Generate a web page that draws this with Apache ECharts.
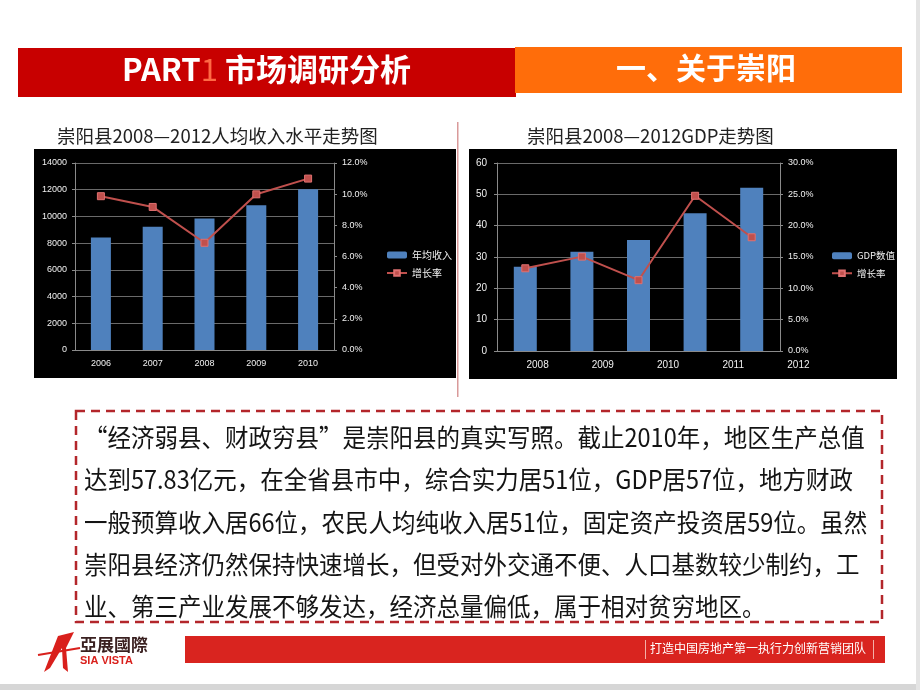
<!DOCTYPE html>
<html><head><meta charset="utf-8">
<script src="https://cdn.jsdelivr.net/npm/echarts@6/dist/echarts.min.js"></script>
<style>html,body{margin:0;padding:0;background:#fff}#c{width:920px;height:690px}</style>
</head><body><div id="c"></div>
<script>
// ---- data ----
const years1 = ['2006', '2007', '2008', '2009', '2010'];
const income = [8420, 9220, 9840, 10840, 12030];
const incomeRate = [0.0987, 0.0918, 0.0688, 0.0999, 0.110];
const years2Bars = ['2008', '2009', '2010', '2011', '2012'];
const years2Labels = ['2008', '2009', '2010', '2011', '2012'];
const gdp = [26.9, 31.7, 35.4, 44.0, 52.1];
const gdpRate = [0.132, 0.1506, 0.113, 0.2477, 0.1815];
const title1 = '崇阳县2008—2012人均收入水平走势图';
const title2 = '崇阳县2008—2012GDP走势图';
const bodyLines = [
  '“经济弱县、财政穷县”是崇阳县的真实写照。截止2010年，地区生产总值',
  '达到57.83亿元，在全省县市中，综合实力居51位，GDP居57位，地方财政',
  '一般预算收入居66位，农民人均纯收入居51位，固定资产投资居59位。虽然',
  '崇阳县经济仍然保持快速增长，但受对外交通不便、人口基数较少制约，工',
  '业、第三产业发展不够发达，经济总量偏低，属于相对贫穷地区。'
];

const FONT = '"Noto Sans CJK SC", "Noto Sans", sans-serif';
const axisLbl = { color: '#f0f0f0', fontSize: 9, fontFamily: 'Liberation Sans, Arial, sans-serif' };
const pct = v => (v * 100).toFixed(1) + '%';
const plain = v => String(v);
const gridLine = { show: true, lineStyle: { color: '#6a6a6a', width: 1 } };
const axLine = { show: true, lineStyle: { color: '#8a8a8a' } };
const tick = { show: true, length: 3, lineStyle: { color: '#8a8a8a' } };

const chart = echarts.init(document.getElementById('c'), null, { renderer: 'canvas' });

const bodyGraphics = bodyLines.map((t, i) => ({
  type: 'text', x: 84, y: 425 + i * 42.3, z: 50, scaleY: 1.07,
  style: { text: t, fill: '#141414', font: '23.5px ' + FONT }
}));

chart.setOption({
  backgroundColor: '#ffffff',
  animation: false,
  graphic: [
    // header bars
    { type: 'rect', z: 1, shape: { x: 18, y: 48, width: 498, height: 49 }, style: { fill: '#c80000' } },
    { type: 'rect', z: 2, shape: { x: 515, y: 47, width: 387, height: 46 }, style: { fill: '#ff6d0a' } },
    { type: 'text', z: 3, left: 122, top: 54, style: { rich: { a: { fill: '#ffffff', font: 'bold 31px ' + FONT }, b: { fill: '#ff6a45', font: '31px ' + FONT } }, text: '{a|PART}{b|1}{a| 市场调研分析}' } },
    { type: 'text', z: 3, left: 616, top: 53, style: { text: '一、关于崇阳', fill: '#ffffff', font: 'bold 30px ' + FONT } },
    // divider
    { type: 'rect', z: 1, shape: { x: 457, y: 122, width: 1.5, height: 275 }, style: { fill: '#d99a9a' } },
    // chart backgrounds
    { type: 'rect', z: -10, shape: { x: 34, y: 149, width: 422, height: 229 }, style: { fill: '#000000' } },
    { type: 'rect', z: -10, shape: { x: 469, y: 149, width: 428, height: 230 }, style: { fill: '#000000' } },
    // chart titles
    { type: 'text', z: 3, left: 57, top: 127, style: { text: title1, fill: '#222', font: '18.5px ' + FONT } },
    { type: 'text', z: 3, left: 527, top: 127, style: { text: title2, fill: '#222', font: '18.5px ' + FONT } },
    // dashed box
    { type: 'rect', z: 4, shape: { x: 76, y: 411, width: 806, height: 211 }, style: { fill: 'none', stroke: '#b3262b', lineWidth: 2.5, lineDash: [9, 6] } },
    ...bodyGraphics,
    // footer
    { type: 'rect', z: 1, shape: { x: 185, y: 636, width: 700, height: 27 }, style: { fill: '#d9241f' } },
    { type: 'rect', z: 2, shape: { x: 645, y: 640, width: 1, height: 19 }, style: { fill: '#f3b0a8' } },
    { type: 'rect', z: 2, shape: { x: 873, y: 640, width: 1, height: 19 }, style: { fill: '#f3b0a8' } },
    { type: 'text', z: 3, left: 650, top: 642, style: { text: '打造中国房地产第一执行力创新营销团队', fill: '#ffffff', font: '12px ' + FONT } },
    // logo
    { type: 'polygon', z: 3, shape: { points: [[44, 672], [58, 636], [74, 632], [66, 648], [68, 672], [63, 668], [62, 648], [50, 668]] }, style: { fill: '#d9201c' } },
    { type: 'polyline', z: 3, shape: { points: [[38, 655], [80, 648]] }, style: { stroke: '#d9201c', lineWidth: 2 } },
    { type: 'text', z: 3, left: 80, top: 636, style: { text: '亞展國際', fill: '#3a2020', font: 'bold 17px ' + FONT } },
    { type: 'text', z: 3, left: 80, top: 655, style: { text: 'SIA VISTA', fill: '#d9201c', font: 'bold 11px "Liberation Sans", Arial, sans-serif' } },
    // bottom strip and right edge
    { type: 'rect', z: 0, shape: { x: 0, y: 684, width: 920, height: 6 }, style: { fill: '#d6d6d6' } },
    { type: 'rect', z: 0, shape: { x: 916, y: 0, width: 4, height: 690 }, style: { fill: '#e4e4e4' } }
  ],
  legend: [
    { orient: 'vertical', left: 381, top: 245, itemWidth: 20, itemHeight: 7, itemGap: 8,
      textStyle: { color: '#f0f0f0', fontSize: 10, fontFamily: FONT }, data: ['年均收入', '增长率'] },
    { orient: 'vertical', left: 826, top: 246, itemWidth: 20, itemHeight: 7, itemGap: 8,
      textStyle: { color: '#f0f0f0', fontSize: 9.5, fontFamily: FONT }, data: ['GDP数值', '增长率'] }
  ],
  grid: [
    { left: 75, top: 163, width: 259, height: 187 },
    { left: 497, top: 163, width: 283, height: 188 },
    { left: 505, top: 163, width: 326, height: 188 }
  ],
  xAxis: [
    { type: 'category', gridIndex: 0, data: years1, axisLine: axLine, axisTick: { show: false }, axisLabel: Object.assign({ margin: 9 }, axisLbl) },
    { type: 'category', gridIndex: 1, data: years2Bars, axisLine: axLine, axisTick: { show: false }, axisLabel: { show: false } },
    { type: 'category', gridIndex: 2, data: years2Labels, axisLine: { show: false }, axisTick: { show: false }, axisLabel: Object.assign({ margin: 9 }, axisLbl, { fontSize: 10 }) }
  ],
  yAxis: [
    { type: 'value', gridIndex: 0, min: 0, max: 14000, interval: 2000, axisLine: axLine, axisTick: tick, splitLine: gridLine, axisLabel: Object.assign({ margin: 8, formatter: plain }, axisLbl) },
    { type: 'value', gridIndex: 0, position: 'right', min: 0, max: 0.12, interval: 0.02, axisLine: axLine, axisTick: tick, splitLine: { show: false }, axisLabel: Object.assign({ margin: 8, formatter: pct }, axisLbl) },
    { type: 'value', gridIndex: 1, min: 0, max: 60, interval: 10, axisLine: axLine, axisTick: tick, splitLine: gridLine, axisLabel: Object.assign({ margin: 10, formatter: plain }, axisLbl, { fontSize: 10 }) },
    { type: 'value', gridIndex: 1, position: 'right', min: 0, max: 0.30, interval: 0.05, axisLine: axLine, axisTick: tick, splitLine: { show: false }, axisLabel: Object.assign({ margin: 8, formatter: pct }, axisLbl) },
    { type: 'value', gridIndex: 2, show: false, min: 0, max: 1 }
  ],
  series: [
    { name: '年均收入', type: 'bar', xAxisIndex: 0, yAxisIndex: 0, data: income, barWidth: 20, itemStyle: { color: '#4f81bd' } },
    { name: '增长率', type: 'line', xAxisIndex: 0, yAxisIndex: 1, data: incomeRate, symbol: 'rect', symbolSize: 7,
      lineStyle: { color: '#c0504d', width: 2 }, itemStyle: { color: '#c0504d', borderColor: '#e07070', borderWidth: 1 } },
    { name: 'GDP数值', type: 'bar', xAxisIndex: 1, yAxisIndex: 2, data: gdp, barWidth: 23, itemStyle: { color: '#4f81bd' } },
    { name: '增长率', type: 'line', xAxisIndex: 1, yAxisIndex: 3, data: gdpRate, symbol: 'rect', symbolSize: 7,
      lineStyle: { color: '#c0504d', width: 2 }, itemStyle: { color: '#c0504d', borderColor: '#e07070', borderWidth: 1 } }
  ]
});
</script>
</body></html>
